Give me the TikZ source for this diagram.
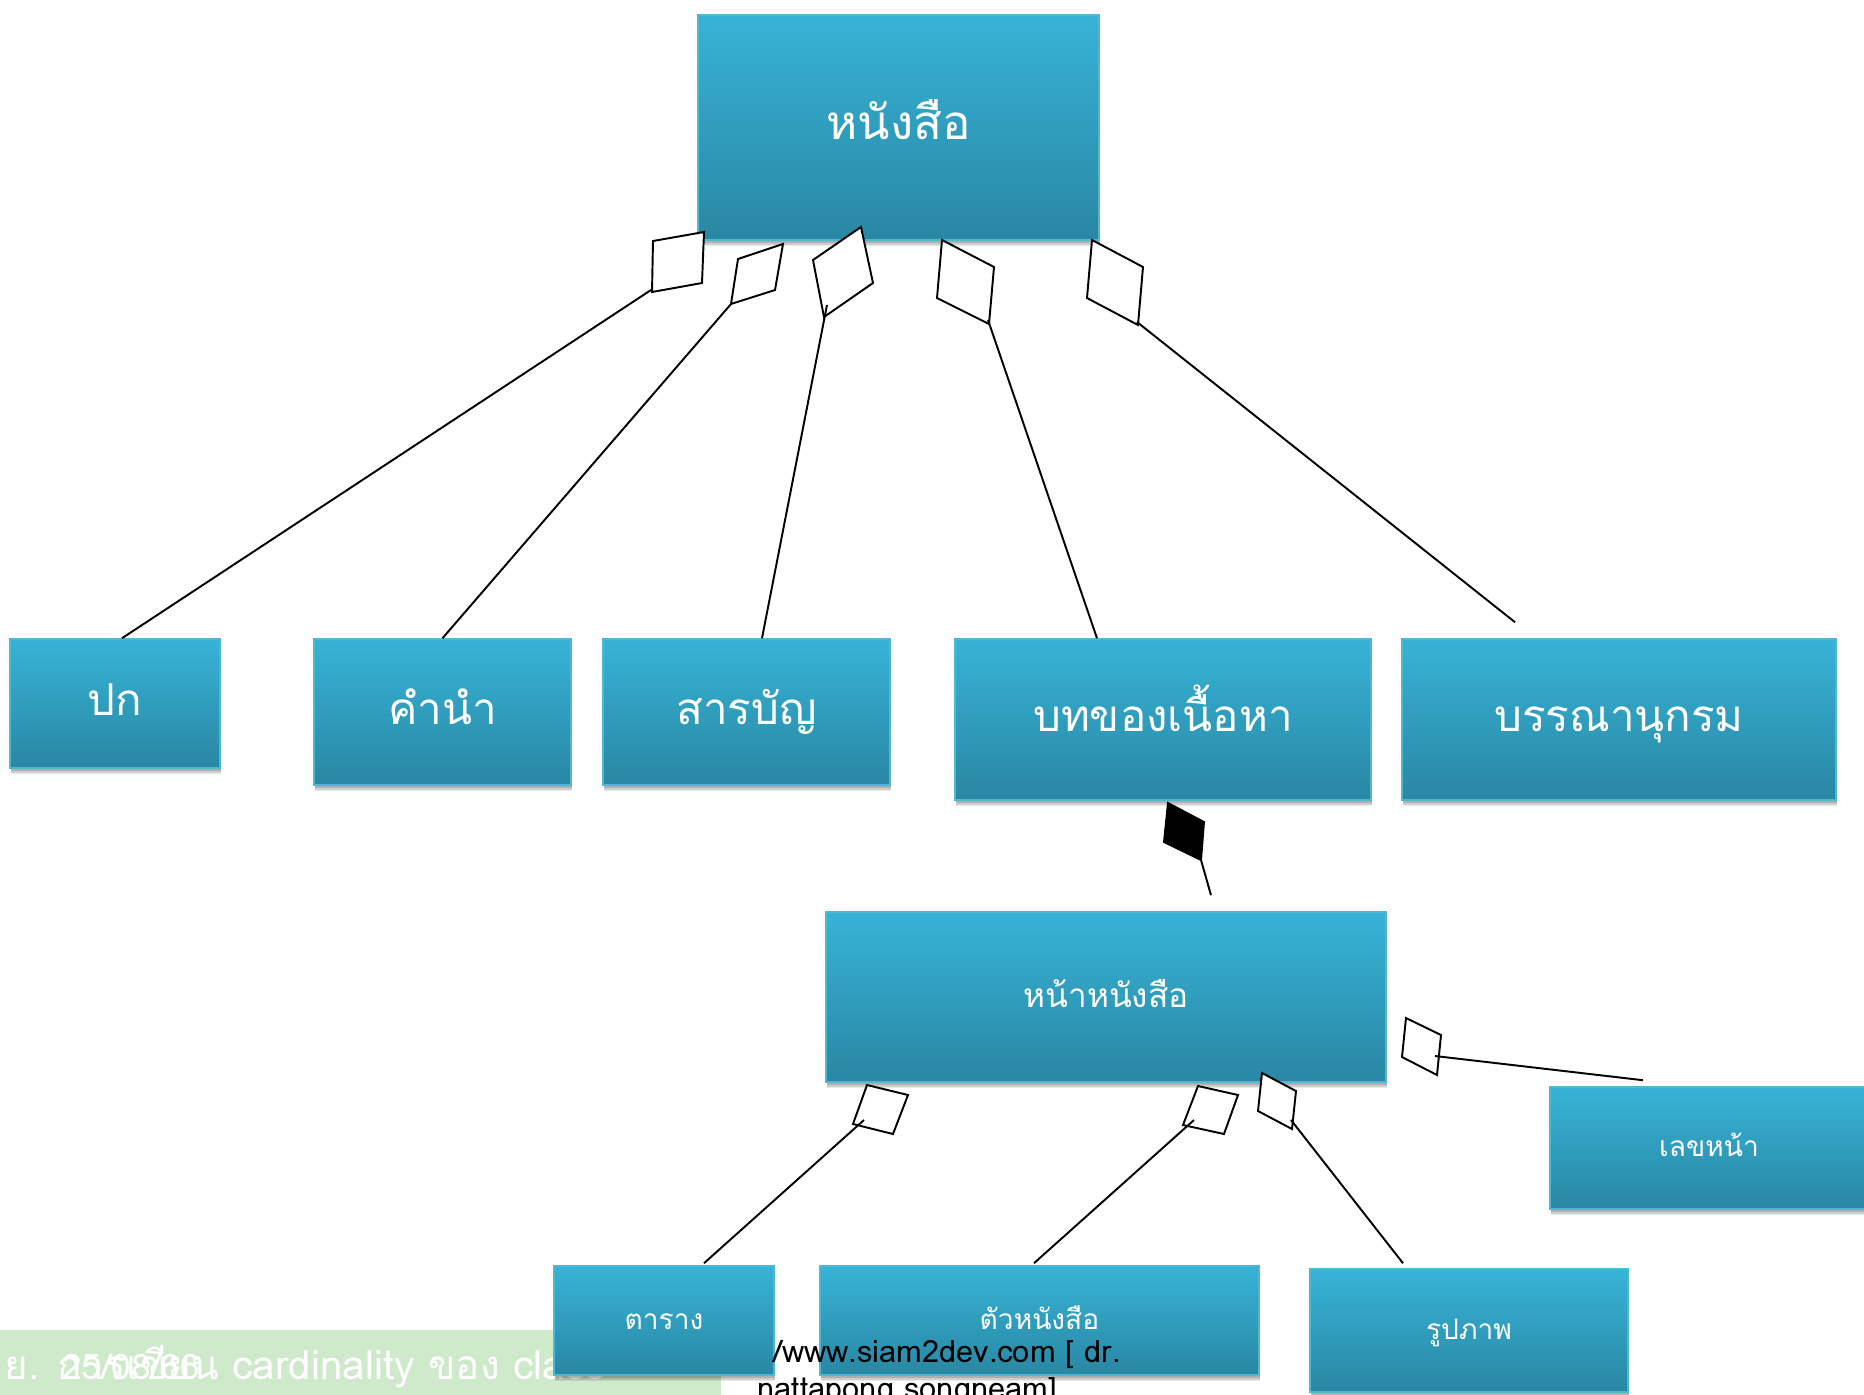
\documentclass[tikz,border=0pt]{standalone}
\usepackage{fontspec}
\setmainfont[Script=Thai]{Loma}
\usetikzlibrary{calc,shadows}

\definecolor{boxtop}{HTML}{37B3D7}
\definecolor{boxbot}{HTML}{2987A3}
\definecolor{boxedge}{HTML}{4FB6D5}
\definecolor{footgreen}{HTML}{CFE9CB}

\def\pxu{0.02cm}

\tikzset{
  softshadow/.style={
    general shadow={fill=black, opacity=0.08, shadow xshift=0.6pt, shadow yshift=-3.6pt},
    general shadow={fill=black, opacity=0.12, shadow xshift=0.5pt, shadow yshift=-2.6pt},
    general shadow={fill=black, opacity=0.15, shadow xshift=0.4pt, shadow yshift=-1.6pt}},
  cbox/.style={rectangle, draw=boxedge, line width=0.9pt,
    top color=boxtop, bottom color=boxbot, text=white, inner sep=0pt, softshadow},
  bigfont/.style={font=\fontsize{27}{30}\selectfont, text height=14.2pt, text depth=0pt},
  midfont/.style={font=\fontsize{25}{28}\selectfont, text height=14pt, text depth=0pt},
  pgfont/.style={font=\fontsize{19}{22}\selectfont, text height=11.4pt, text depth=0pt},
  smallfont/.style={font=\fontsize{16}{19}\selectfont, text height=9.8pt, text depth=0pt},
  conn/.style={line width=1.1pt, black},
  agg/.style={line width=1.1pt, black, fill=white, line join=miter},
  comp/.style={line width=1.1pt, black, fill=black, line join=miter},
  foottext/.style={anchor=base west, text=white, inner sep=0pt},
  linktext/.style={anchor=base west, inner sep=0pt, font=\fontsize{17.5}{20}\selectfont},
}

\begin{document}
\begin{tikzpicture}[x=0.02cm, y=-0.02cm]
\useasboundingbox (0,0) rectangle (1864,1394);
\clip (0,0) rectangle (1864,1394);

% slide footer band
\fill[footgreen] (0,1330) rectangle (721,1400);
\node[foottext, font=\fontsize{23}{27}\selectfont] (foot) at (4,1379)
  {ย. การเขียน cardinality ของ class};
\node[foottext, font=\fontsize{20}{24}\selectfont] (date) at (62,1379) {25/08/66};

% classes
\node[cbox, bigfont, minimum width=401*\pxu, minimum height=225*\pxu] (book) at (898.5,127.5) {หนังสือ};
\node[cbox, midfont, minimum width=210*\pxu, minimum height=129*\pxu] (cover) at (115,703.5) {ปก};
\node[cbox, midfont, minimum width=257*\pxu, minimum height=146*\pxu] (preface) at (442.5,712) {คำนำ};
\node[cbox, midfont, minimum width=287*\pxu, minimum height=146*\pxu] (toc) at (746.5,712) {สารบัญ};
\node[cbox, midfont, minimum width=416*\pxu, minimum height=161*\pxu] (content) at (1163,719.5) {บทของเนื้อหา};
\node[cbox, midfont, minimum width=434*\pxu, minimum height=161*\pxu] (biblio) at (1619,719.5) {บรรณานุกรม};
\node[cbox, pgfont, minimum width=560*\pxu, minimum height=170*\pxu] (page) at (1106,997) {หน้าหนังสือ};
\node[cbox, smallfont, minimum width=318*\pxu, minimum height=122*\pxu] (pageno) at (1709,1148) {เลขหน้า};
\node[cbox, smallfont, minimum width=220*\pxu, minimum height=109*\pxu] (tbl) at (664,1320.5) {ตาราง};
\node[cbox, smallfont, minimum width=439*\pxu, minimum height=109*\pxu] (txt) at (1039.5,1320.5) {ตัวหนังสือ};
\node[cbox, smallfont, minimum width=318*\pxu, minimum height=123*\pxu] (pic) at (1469,1330.5) {รูปภาพ};

% aggregation diamonds (hollow) and their tips
\draw[agg] (653,241) -- (704,232) -- (702,283) -- (652,292) -- cycle;
\coordinate (t1) at (651,290);
\draw[agg] (738,259) -- (783,244) -- (775,290) -- (731,304) -- cycle;
\coordinate (t2) at (731,304);
\draw[agg] (813,260) -- (861,227) -- (873,283) -- (824,317) -- cycle;
\coordinate (t3) at (827,305);
\draw[agg] (942,240) -- (994,267) -- (989,324) -- (937,298) -- cycle;
\coordinate (t4) at (988,320);
\draw[agg] (1092,240) -- (1143,267) -- (1138,325) -- (1087,298) -- cycle;
\coordinate (t5) at (1137,322);
\draw[comp] (1168,803) -- (1204,822) -- (1201,860) -- (1164,842) -- cycle;
\coordinate (t6) at (1201,860);
\draw[agg] (1406,1018) -- (1441,1035) -- (1437,1075) -- (1402,1057) -- cycle;
\coordinate (t7) at (1435,1056);
\draw[agg] (867,1085) -- (908,1095) -- (893,1134) -- (853,1124) -- cycle;
\coordinate (t8) at (864,1120);
\draw[agg] (1198,1086) -- (1238,1095) -- (1224,1134) -- (1183,1125) -- cycle;
\coordinate (t9) at (1194,1120);
\draw[agg] (1262,1073) -- (1296,1091) -- (1292,1129) -- (1258,1111) -- cycle;
\coordinate (t10) at (1291,1120);

% connectors
\draw[conn] (t1) -- ($(cover.north)+(7,0)$);
\draw[conn] (t2) -- ($(preface.north)+(0,0)$);
\draw[conn] (t3) -- ($(toc.north)+(15.5,0)$);
\draw[conn] (t4) -- ($(content.north)+(-66,0)$);
\draw[conn] (t5) -- ($(biblio.north)+(-104,-16)$);
\draw[conn] (t6) -- ($(page.north)+(105,-16)$);
\draw[conn] (t7) -- ($(pageno.north)+(-66,-6)$);
\draw[conn] (t8) -- ($(tbl.north)+(40,-2)$);
\draw[conn] (t9) -- ($(txt.north)+(-5.5,-2)$);
\draw[conn] (t10) -- ($(pic.north)+(-66,-5)$);

% slide footer link text
\node[linktext] (url1) at (773,1362) {/www.siam2dev.com [ dr.};
\node[linktext] (url2) at (757,1399) {nattapong songneam]};
\end{tikzpicture}
\end{document}
